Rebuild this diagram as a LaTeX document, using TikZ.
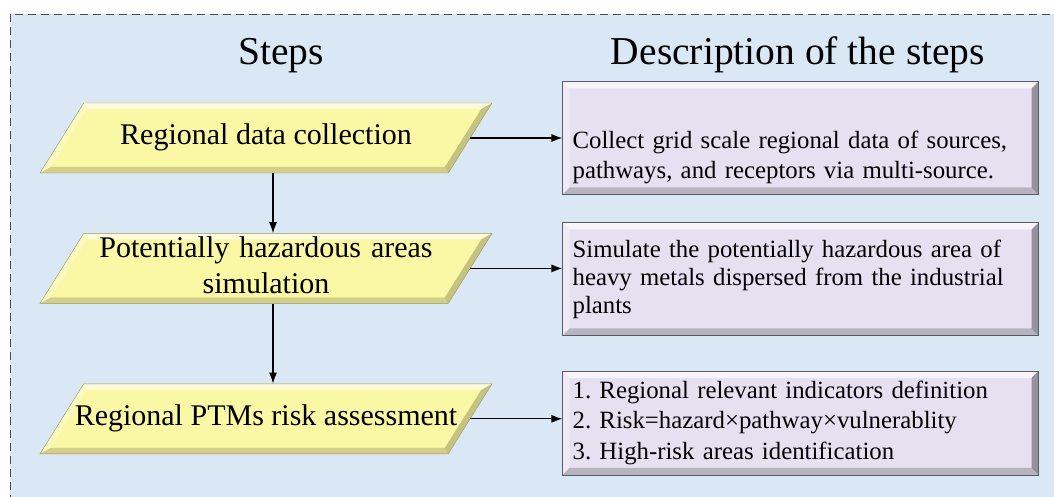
\documentclass[tikz,border=0pt]{standalone}
\usepackage{fontspec}
\setmainfont{Liberation Serif}
\frenchspacing
\usetikzlibrary{shapes.geometric,arrows.meta,positioning}
\definecolor{bgblue}{RGB}{218,231,244}
\definecolor{stepyellow}{RGB}{250,247,165}
\definecolor{stepline}{RGB}{150,150,100}
\definecolor{descviolet}{RGB}{231,224,241}
\definecolor{descline}{RGB}{90,90,100}
\newcommand{\pslant}{43.74pt}
\newcommand{\ppbb}{path picture bounding box}

\tikzset{
  stepbox/.style={trapezium,trapezium left angle=58,trapezium right angle=122,trapezium stretches body,
    draw=stepline,fill=stepyellow,minimum width=452pt,minimum height=70pt,inner xsep=-10pt,inner ysep=21pt,
    text height=21pt,text depth=7pt,align=center,font=\fontsize{30}{36}\selectfont,
    path picture={
      \fill[white,opacity=.6] ([xshift=\pslant]\ppbb.north west) -- (\ppbb.north east) -- ([shift={(-10.7pt,-6pt)}]\ppbb.north east) -- ([shift={(\pslant+3.4pt,-6pt)}]\ppbb.north west) -- cycle;
      \fill[white,opacity=.3] ([xshift=\pslant]\ppbb.north west) -- ([shift={(\pslant+3.4pt,-6pt)}]\ppbb.north west) -- ([shift={(10.7pt,6pt)}]\ppbb.south west) -- (\ppbb.south west) -- cycle;
      \fill[black!60!yellow,opacity=.3] (\ppbb.south west) -- ([xshift=-\pslant]\ppbb.south east) -- ([shift={(-\pslant-3.4pt,6pt)}]\ppbb.south east) -- ([shift={(10.7pt,6pt)}]\ppbb.south west) -- cycle;
      \fill[black!60!yellow,opacity=.4] (\ppbb.north east) -- ([xshift=-\pslant]\ppbb.south east) -- ([shift={(-\pslant-3.4pt,6pt)}]\ppbb.south east) -- ([shift={(-10.7pt,-6pt)}]\ppbb.north east) -- cycle;
    }},
  descbox/.style={rectangle,draw=descline,fill=descviolet,text width=456pt,inner xsep=10pt,inner ysep=2pt,
    align=left,font=\fontsize{24.8}{30}\selectfont,
    path picture={
      \fill[white,opacity=.7] (\ppbb.north west) -- (\ppbb.north east) -- ([shift={(-7pt,-7pt)}]\ppbb.north east) -- ([shift={(7pt,-7pt)}]\ppbb.north west) -- cycle;
      \fill[white,opacity=.35] (\ppbb.north west) -- ([shift={(7pt,-7pt)}]\ppbb.north west) -- ([shift={(7pt,7pt)}]\ppbb.south west) -- (\ppbb.south west) -- cycle;
      \fill[black,opacity=.2] (\ppbb.south west) -- (\ppbb.south east) -- ([shift={(-7pt,7pt)}]\ppbb.south east) -- ([shift={(7pt,7pt)}]\ppbb.south west) -- cycle;
      \fill[black,opacity=.35] (\ppbb.north east) -- (\ppbb.south east) -- ([shift={(-7pt,7pt)}]\ppbb.south east) -- ([shift={(-7pt,-7pt)}]\ppbb.north east) -- cycle;
    }},
  headline/.style={font=\fontsize{39.5}{44}\selectfont,anchor=base},
  flow/.style={-{Latex[length=11pt,width=8pt]},line width=1.2pt}
}

\begin{document}
\begin{tikzpicture}[x=1pt,y=-1pt]
\useasboundingbox (0,0) rectangle (1054,497);
\draw[dash pattern=on 8pt off 5pt,draw=gray!60!black,fill=bgblue] (10,14) rectangle (1064,507);
% column heads
\node[headline] (stepshead) at (281,65) {Steps};
\node[headline] (deschead) at (798,65) {Description of the steps};
% steps
\node[stepbox] (collect) at (266,138) {Regional data collection};
\node[stepbox,below=60pt of collect,text width=340pt,text depth=43pt,inner ysep=3pt] (simul) {Potentially hazardous areas\\simulation};
\node[stepbox,below=80pt of simul] (assess) {Regional PTMs risk assessment};
% descriptions
\node[descbox,minimum height=113pt,text height=56.5pt,right=92pt of collect] (collectdesc) {Collect grid scale regional data of sources,\\pathways, and receptors via multi-source.};
\node[descbox,minimum height=113pt,right=92pt of simul,yshift=-10.5pt,font=\fontsize{24.8}{28}\selectfont] (simuldesc) {Simulate the potentially hazardous area of\\heavy metals dispersed from the industrial\\plants};
\node[descbox,minimum height=104pt,right=92pt of assess,yshift=-4pt,font=\fontsize{24.8}{30.5}\selectfont] (assessdesc) {1. Regional relevant indicators definition\\2. Risk=hazard×pathway×vulnerablity\\3. High-risk areas identification};
\draw[flow] ([xshift=7pt]collect.south) -- ([xshift=7pt]simul.north);
\draw[flow] ([xshift=7pt]simul.south) -- ([xshift=7pt]assess.north);
\draw[flow] (collect.east) -- (collect.east -| collectdesc.west);
\draw[flow] (simul.east) -- (simul.east -| simuldesc.west);
\draw[flow] (assess.east) -- (assess.east -| assessdesc.west);
\end{tikzpicture}
\end{document}
